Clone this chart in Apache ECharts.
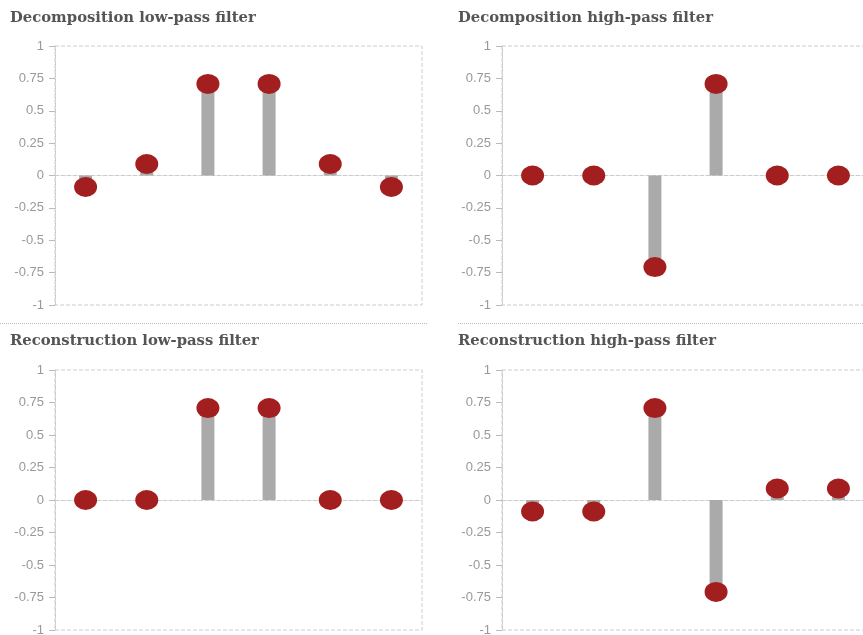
<!DOCTYPE html>
<html>
<head>
<meta charset="utf-8">
<script src="https://cdn.jsdelivr.net/npm/echarts@6/dist/echarts.min.js"></script>
<style>
  html, body { margin: 0; padding: 0; background: #fff; }
  #wrap { position: relative; width: 863px; height: 635px; overflow: hidden; }
  #chart { position: absolute; left: 0; top: 0; width: 863px; height: 635px; }
  .sep { position: absolute; top: 323px; height: 0; border-top: 1px dotted #bbb; }
</style>
</head>
<body>
<div id="wrap">
  <div class="sep" style="left:0; width:427px;"></div>
  <div class="sep" style="left:458px; width:405px;"></div>
  <div id="chart"></div>
</div>
<script>
// bior1.3 wavelet filter coefficients
const taps = ['0', '1', '2', '3', '4', '5'];
const titles = [
  'Decomposition low-pass filter',
  'Decomposition high-pass filter',
  'Reconstruction low-pass filter',
  'Reconstruction high-pass filter'
];
const decLow  = [-0.0884, 0.0884, 0.7071, 0.7071, 0.0884, -0.0884];
const decHigh = [0, 0, -0.7071, 0.7071, 0, 0];
const recLow  = [0, 0, 0.7071, 0.7071, 0, 0];
const recHigh = [-0.0884, -0.0884, 0.7071, -0.7071, 0.0884, 0.0884];
const filters = [decLow, decHigh, recLow, recHigh];
const yTickLabels = {'1': '1', '0.75': '0.75', '0.5': '0.5', '0.25': '0.25', '0': '0',
  '-0.25': '-0.25', '-0.5': '-0.5', '-0.75': '-0.75', '-1': '-1'};

const panels = [
  { left: 55,  top: 46,  height: 259, titleLeft: 5,   titleTop: 6 },
  { left: 502, top: 46,  height: 259, titleLeft: 453, titleTop: 6 },
  { left: 55,  top: 370, height: 260, titleLeft: 5,   titleTop: 329 },
  { left: 502, top: 370, height: 260, titleLeft: 453, titleTop: 329 }
];

const chart = echarts.init(document.getElementById('chart'));
const option = { animation: false, title: [], grid: [], xAxis: [], yAxis: [], series: [] };

panels.forEach((p, i) => {
  option.title.push({
    text: titles[i], left: p.titleLeft, top: p.titleTop,
    textStyle: { fontFamily: 'DejaVu Serif', fontWeight: 'bold', fontSize: 14.8, color: '#555' }
  });
  option.grid.push({
    left: p.left, top: p.top, width: 367, height: p.height,
    outerBoundsMode: 'none', containLabel: false,
    show: true, borderColor: '#ccc', borderWidth: 1, borderType: 'dashed',
    backgroundColor: 'transparent'
  });
  option.xAxis.push({
    type: 'category', gridIndex: i, data: taps,
    axisLine: { onZero: true, lineStyle: { color: '#ccc', type: 'dashed' } },
    axisTick: { show: false }, axisLabel: { show: false }, splitLine: { show: false }
  });
  option.yAxis.push({
    type: 'value', gridIndex: i, min: -1, max: 1, interval: 0.25,
    axisLine: { show: true, lineStyle: { color: '#ccc', type: 'dashed' } },
    axisTick: { show: true, length: 6, lineStyle: { color: '#bbb' } },
    splitLine: { show: false },
    axisLabel: {
      color: '#999', fontFamily: 'Liberation Sans', fontSize: 13, margin: 11,
      formatter: v => yTickLabels[String(v)] ?? String(v)
    }
  });
  option.series.push({
    type: 'bar', xAxisIndex: i, yAxisIndex: i, data: filters[i],
    barWidth: 13, itemStyle: { color: '#aaaaaa' }, silent: true
  });
  option.series.push({
    type: 'scatter', xAxisIndex: i, yAxisIndex: i, data: filters[i],
    symbol: 'circle', symbolSize: [23, 20],
    itemStyle: { color: '#a31f1f', opacity: 1 }, z: 3, silent: true
  });
});

chart.setOption(option);
</script>
</body>
</html>
